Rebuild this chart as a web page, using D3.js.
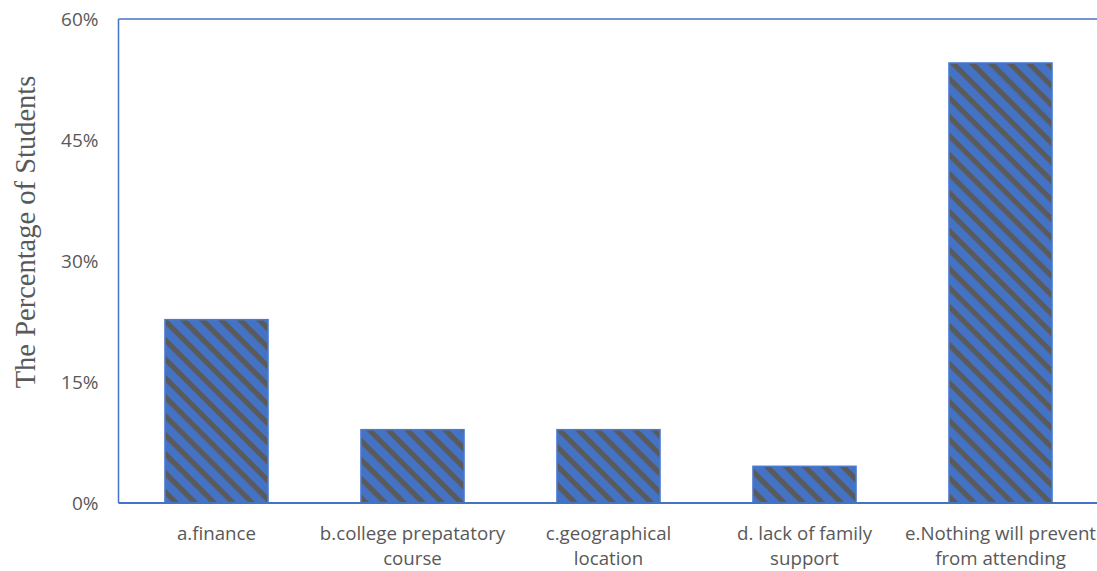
<!DOCTYPE html>
<html>
<head>
<meta charset="utf-8">
<script src="https://cdn.jsdelivr.net/npm/d3@7"></script>
<style>
html,body{margin:0;padding:0;background:#fff;}
svg{display:block;}
</style>
</head>
<body>
<svg id="chart" width="1097" height="571"></svg>
<script>
const categories = [
  ["a.finance"],
  ["b.college prepatatory", "course"],
  ["c.geographical", "location"],
  ["d. lack of family", "support"],
  ["e.Nothing will prevent", "from attending"]
];
const values = [22.73, 9.09, 9.09, 4.55, 54.55];
const yTicks = [0, 15, 30, 45, 60];
const yTitle = "The Percentage of Students";

const W = 1097, H = 571;
const margin = {left: 118.5, right: -1.5, top: 19, bottom: 68};
const svg = d3.select("#chart");

const defs = svg.append("defs");
const pat = defs.append("pattern")
  .attr("id", "hatch")
  .attr("patternUnits", "userSpaceOnUse")
  .attr("width", 13.44).attr("height", 13.44)
  .attr("patternTransform", "rotate(45)");
pat.append("rect").attr("width", 13.44).attr("height", 13.44).attr("fill", "#4472C4");
pat.append("rect").attr("x", 0).attr("y", 0).attr("width", 13.44).attr("height", 5.2).attr("fill", "#5a5a5a");

const x = d3.scaleBand()
  .domain(categories.map((d, i) => i))
  .range([margin.left, W - margin.right])
  .paddingInner(0.474).paddingOuter(0.237);

const y = d3.scaleLinear().domain([0, 60]).range([H - margin.bottom, margin.top]);

// bars
svg.append("g").selectAll("rect").data(values).join("rect")
  .attr("x", (d, i) => x(i))
  .attr("y", d => y(d))
  .attr("width", x.bandwidth())
  .attr("height", d => y(0) - y(d))
  .attr("fill", "url(#hatch)")
  .attr("stroke", "#4a7bd0")
  .attr("stroke-width", 1.5);

// frame: left, top
const frameColor = "#4472C4";
svg.append("line").attr("x1", margin.left).attr("x2", margin.left).attr("y1", y(60)).attr("y2", y(0))
  .attr("stroke", frameColor).attr("stroke-width", 1.5);
svg.append("line").attr("x1", margin.left).attr("x2", W).attr("y1", y(60)).attr("y2", y(60))
  .attr("stroke", frameColor).attr("stroke-width", 1.5);

// y axis
const yAxis = d3.axisLeft(y).tickValues(yTicks).tickSize(0).tickPadding(20).tickFormat(d => d + "%");
const gy = svg.append("g").attr("transform", `translate(${margin.left},0)`).call(yAxis);
gy.select(".domain").remove();
gy.selectAll("text").attr("fill", "#595959").style("font-family", "'Open Sans', sans-serif").style("font-size", "19px");

// x axis
const xAxis = d3.axisBottom(x).tickSize(0).tickFormat("");
const gx = svg.append("g").attr("transform", `translate(0,${y(0)})`).call(xAxis);
gx.select(".domain").attr("stroke", frameColor).attr("stroke-width", 2)
  .attr("d", `M${margin.left},0H${W}`);
gx.selectAll(".tick").each(function(d) {
  const t = d3.select(this).append("text")
    .attr("fill", "#595959")
    .attr("text-anchor", "middle")
    .style("font-family", "'Open Sans', sans-serif")
    .style("font-size", "18.7px");
  categories[d].forEach((line, j) => {
    t.append("tspan").attr("x", 0).attr("y", 37 + j * 25).text(line);
  });
});

// y title
svg.append("text")
  .attr("transform", `translate(35,232) rotate(-90)`)
  .attr("text-anchor", "middle")
  .attr("fill", "#595959")
  .style("font-family", "'Liberation Serif', 'Times New Roman', serif")
  .style("font-size", "28.5px")
  .text(yTitle);
</script>
</body>
</html>
